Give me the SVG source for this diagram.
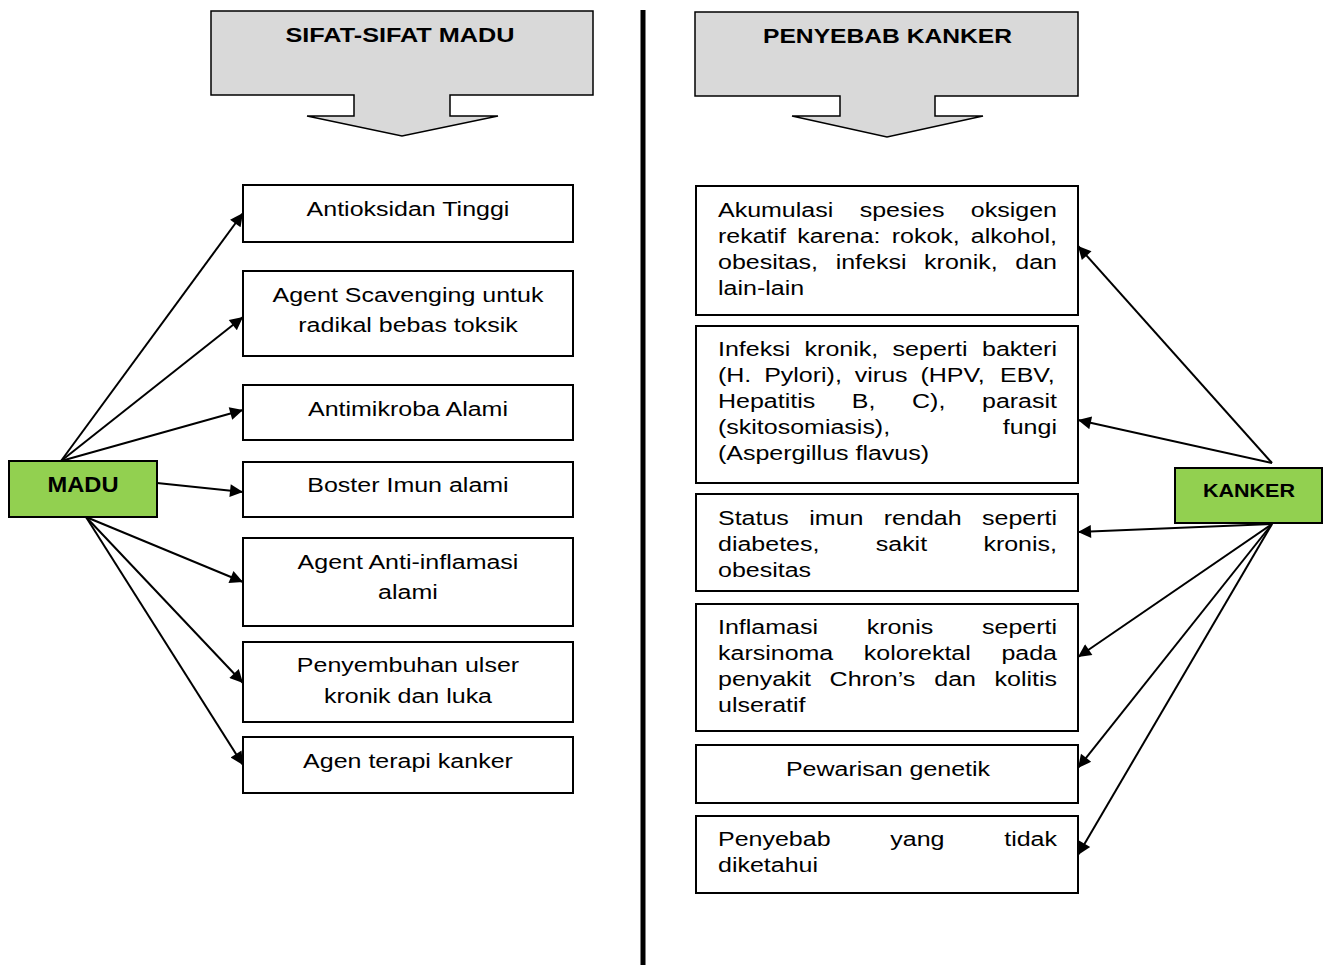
<svg xmlns="http://www.w3.org/2000/svg" width="1330" height="965" viewBox="0 0 1330 965">
<style>
.box{fill:#fff;stroke:#000;stroke-width:2}
.green{fill:#92D050;stroke:#000;stroke-width:2}
.hdr{fill:#D9D9D9;stroke:#000;stroke-width:1.5}
.t{font-family:"Liberation Sans",Arial,sans-serif;font-size:20px;fill:#000}
.c{text-anchor:middle}
.b{font-family:"Liberation Sans",Arial,sans-serif;font-weight:bold;fill:#000;text-anchor:middle}
.con line{stroke:#000;stroke-width:2;marker-end:url(#ah)}
</style>
<defs>
<marker id="ah" viewBox="0 0 10 10" refX="10" refY="5" markerWidth="8" markerHeight="6.5" orient="auto" markerUnits="strokeWidth">
<path d="M0,0 L10,5 L0,10 z" fill="#000"/>
</marker>
</defs>
<rect width="1330" height="965" fill="#fff"/>
<line x1="643" y1="10" x2="643" y2="965" stroke="#000" stroke-width="5"/>

<g id="hdr-sifat">
<polygon class="hdr" points="211,11 593,11 593,95 450,95 450,116 498,116 402,136 307,116 354,116 354,95 211,95"/>
<text class="b" x="400" y="42" font-size="21" textLength="229" lengthAdjust="spacingAndGlyphs">SIFAT-SIFAT MADU</text>
</g>
<g id="hdr-penyebab">
<polygon class="hdr" points="695,12 1078,12 1078,96 935,96 935,116 983,116 887,137 792,116 840,116 840,96 695,96"/>
<text class="b" x="887.5" y="43" font-size="21" textLength="249" lengthAdjust="spacingAndGlyphs">PENYEBAB KANKER</text>
</g>

<g id="madu">
<rect class="green" x="9" y="461" width="148" height="56"/>
<text class="b" x="83" y="492" font-size="22" textLength="71" lengthAdjust="spacingAndGlyphs">MADU</text>
</g>
<g id="kanker">
<rect class="green" x="1175" y="468" width="147" height="55"/>
<text class="b" x="1249" y="497" font-size="19" textLength="92" lengthAdjust="spacingAndGlyphs">KANKER</text>
</g>

<g id="l1"><rect class="box" x="243" y="185" width="330" height="57"/>
<text class="t c" transform="scale(1.25,1)" x="326.4" y="216">Antioksidan Tinggi</text></g>
<g id="l2"><rect class="box" x="243" y="271" width="330" height="85"/>
<text class="t c" transform="scale(1.25,1)"><tspan x="326.4" y="302">Agent Scavenging untuk</tspan><tspan x="326.4" y="332">radikal bebas toksik</tspan></text></g>
<g id="l3"><rect class="box" x="243" y="385" width="330" height="55"/>
<text class="t c" transform="scale(1.25,1)" x="326.4" y="416">Antimikroba Alami</text></g>
<g id="l4"><rect class="box" x="243" y="462" width="330" height="55"/>
<text class="t c" transform="scale(1.25,1)" x="326.4" y="492">Boster Imun alami</text></g>
<g id="l5"><rect class="box" x="243" y="538" width="330" height="88"/>
<text class="t c" transform="scale(1.25,1)"><tspan x="326.4" y="569">Agent Anti-inflamasi</tspan><tspan x="326.4" y="599">alami</tspan></text></g>
<g id="l6"><rect class="box" x="243" y="642" width="330" height="80"/>
<text class="t c" transform="scale(1.25,1)"><tspan x="326.4" y="672">Penyembuhan ulser</tspan><tspan x="326.4" y="703">kronik dan luka</tspan></text></g>
<g id="l7"><rect class="box" x="243" y="737" width="330" height="56"/>
<text class="t c" transform="scale(1.25,1)" x="326.4" y="768">Agen terapi kanker</text></g>

<g id="r1"><rect class="box" x="696" y="186" width="382" height="129"/>
<text class="t" transform="scale(1.25,1)">
<tspan x="574.4" y="217">Akumulasi</tspan><tspan x="687.76" y="217">spesies</tspan><tspan x="776.68" y="217">oksigen</tspan>
<tspan x="574.4" y="243">rekatif</tspan><tspan x="637.76" y="243">karena:</tspan><tspan x="713.36" y="243">rokok,</tspan><tspan x="776.64" y="243">alkohol,</tspan>
<tspan x="574.4" y="269">obesitas,</tspan><tspan x="668.52" y="269">infeksi</tspan><tspan x="739.28" y="269">kronik,</tspan><tspan x="812.24" y="269">dan</tspan>
<tspan x="574.4" y="295">lain-lain</tspan>
</text></g>
<g id="r2"><rect class="box" x="696" y="326" width="382" height="157"/>
<text class="t" transform="scale(1.25,1)">
<tspan x="574.4" y="356">Infeksi</tspan><tspan x="643.68" y="356">kronik,</tspan><tspan x="714.08" y="356">seperti</tspan><tspan x="785.6" y="356">bakteri</tspan>
<tspan x="574.4" y="382">(H.</tspan><tspan x="611.32" y="382">Pylori),</tspan><tspan x="683.84" y="382">virus</tspan><tspan x="736.36" y="382">(HPV,</tspan><tspan x="800" y="382">EBV,</tspan>
<tspan x="574.4" y="408">Hepatitis</tspan><tspan x="681.48" y="408">B,</tspan><tspan x="729.64" y="408">C),</tspan><tspan x="785.6" y="408">parasit</tspan>
<tspan x="574.4" y="434">(skitosomiasis),</tspan><tspan x="802.24" y="434">fungi</tspan>
<tspan x="574.4" y="460">(Aspergillus flavus)</tspan>
</text></g>
<g id="r3"><rect class="box" x="696" y="494" width="382" height="97"/>
<text class="t" transform="scale(1.25,1)">
<tspan x="574.4" y="525">Status</tspan><tspan x="647.44" y="525">imun</tspan><tspan x="707.04" y="525">rendah</tspan><tspan x="785.6" y="525">seperti</tspan>
<tspan x="574.4" y="551">diabetes,</tspan><tspan x="700.6" y="551">sakit</tspan><tspan x="786.72" y="551">kronis,</tspan>
<tspan x="574.4" y="577">obesitas</tspan>
</text></g>
<g id="r4"><rect class="box" x="696" y="604" width="382" height="127"/>
<text class="t" transform="scale(1.25,1)">
<tspan x="574.4" y="634">Inflamasi</tspan><tspan x="693.32" y="634">kronis</tspan><tspan x="785.6" y="634">seperti</tspan>
<tspan x="574.4" y="660">karsinoma</tspan><tspan x="691.08" y="660">kolorektal</tspan><tspan x="801.12" y="660">pada</tspan>
<tspan x="574.4" y="686">penyakit</tspan><tspan x="663.68" y="686">Chron’s</tspan><tspan x="747.44" y="686">dan</tspan><tspan x="795.6" y="686">kolitis</tspan>
<tspan x="574.4" y="712">ulseratif</tspan>
</text></g>
<g id="r5"><rect class="box" x="696" y="745" width="382" height="58"/>
<text class="t c" transform="scale(1.25,1)" x="710.4" y="776">Pewarisan genetik</text></g>
<g id="r6"><rect class="box" x="696" y="816" width="382" height="77"/>
<text class="t" transform="scale(1.25,1)">
<tspan x="574.4" y="846">Penyebab</tspan><tspan x="712.24" y="846">yang</tspan><tspan x="803.36" y="846">tidak</tspan>
<tspan x="574.4" y="872">diketahui</tspan>
</text></g>

<g id="connectors" class="con">
<line x1="61" y1="461" x2="243" y2="213"/>
<line x1="61" y1="461" x2="243" y2="317"/>
<line x1="61" y1="461" x2="243" y2="410"/>
<line x1="157" y1="483" x2="243" y2="492"/>
<line x1="86" y1="517" x2="243" y2="582"/>
<line x1="86" y1="517" x2="243" y2="683"/>
<line x1="86" y1="517" x2="243" y2="765"/>
<line x1="1272" y1="463" x2="1078" y2="246"/>
<line x1="1272" y1="463" x2="1078" y2="420"/>
<line x1="1272" y1="524" x2="1078" y2="532"/>
<line x1="1272" y1="524" x2="1078" y2="657"/>
<line x1="1272" y1="524" x2="1078" y2="768"/>
<line x1="1272" y1="524" x2="1078" y2="855"/>
</g>
</svg>
